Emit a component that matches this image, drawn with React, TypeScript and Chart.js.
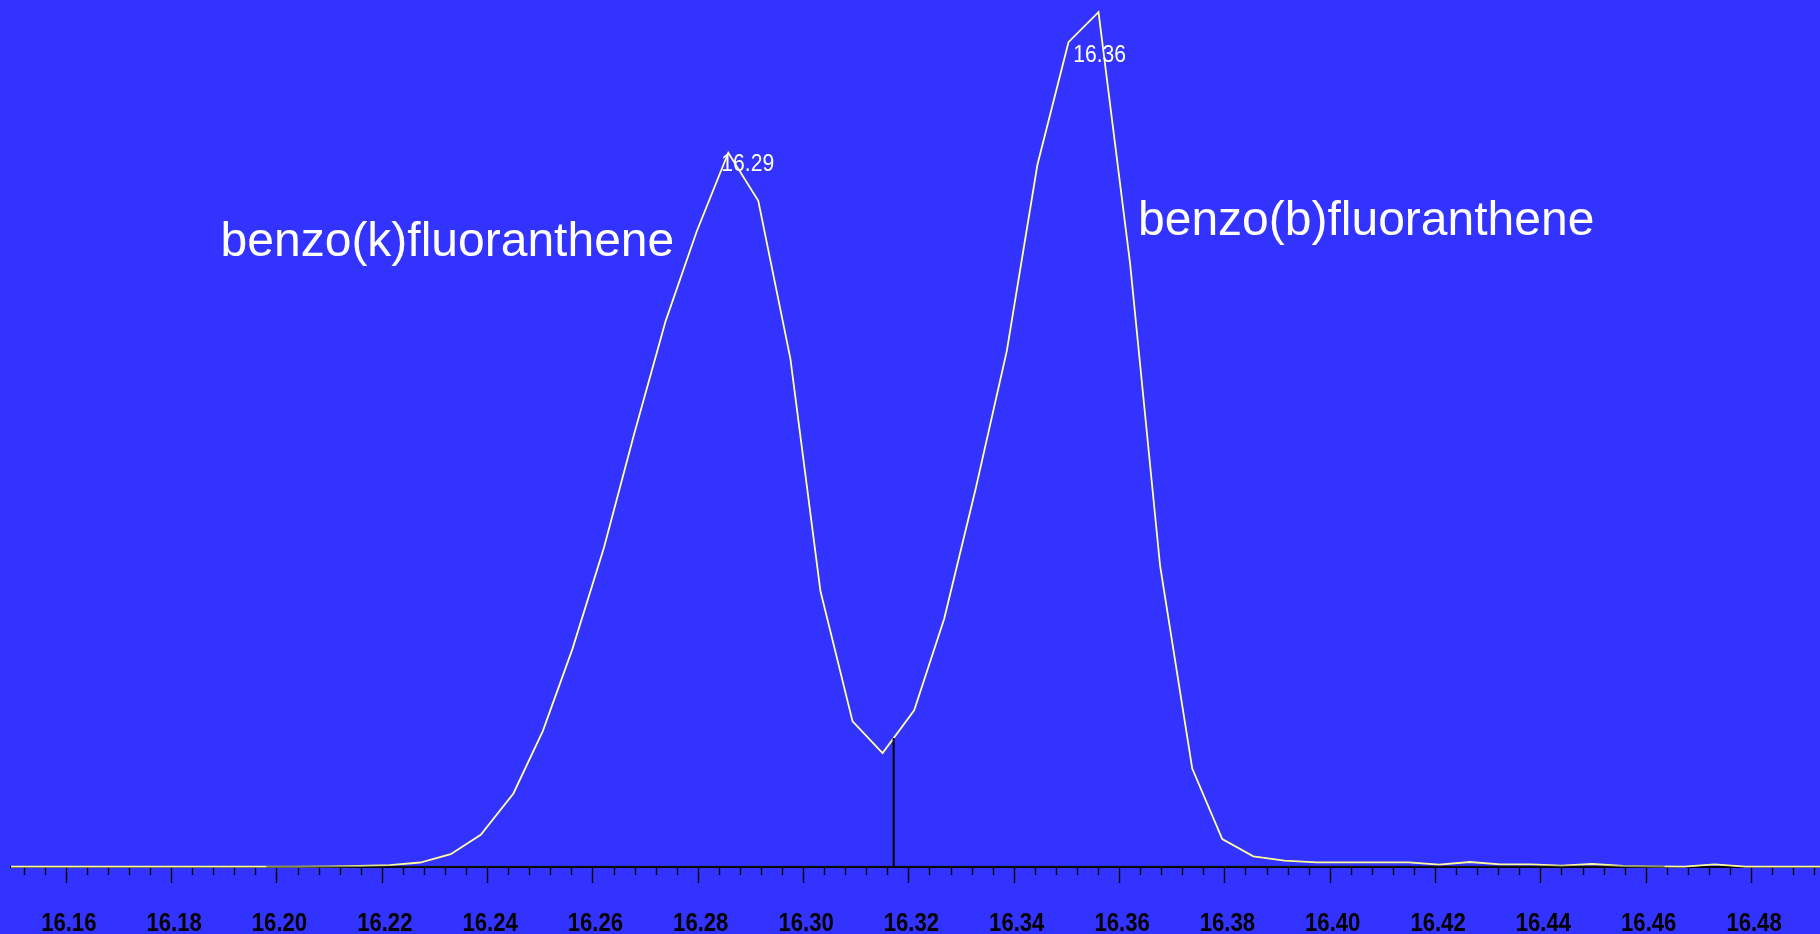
import React, { useEffect, useRef } from 'react';
import { Chart, registerables } from 'chart.js';

Chart.register(...registerables);

// Retention time (min) of each sample of the trace
const retentionTime = [
  16.1453, 16.1512, 16.1570, 16.1629, 16.1687, 16.1746, 16.1804, 16.1863, 16.1921, 16.1980,
  16.2038, 16.2097, 16.2155, 16.2214, 16.2272, 16.2330, 16.2387, 16.2449, 16.2505, 16.2561,
  16.2621, 16.2678, 16.2738, 16.2797, 16.2857, 16.2914, 16.2975, 16.3032, 16.3093, 16.3150,
  16.3210, 16.3267, 16.3327, 16.3386, 16.3444, 16.3503, 16.3560, 16.3620, 16.3677, 16.3738,
  16.3795, 16.3854, 16.3913, 16.3974, 16.4033, 16.4091, 16.4149, 16.4207, 16.4265, 16.4323,
  16.4381, 16.4439, 16.4497, 16.4556, 16.4614, 16.4672, 16.4730, 16.4788, 16.4847, 16.4905,
  16.4962,
];

// Abundance (counts)
const abundance = [
  300, 300, 300, 300, 300, 300, 300, 300, 300, 300,
  400, 600, 1000, 1800, 4500, 12800, 32200, 73500, 136200, 217900,
  319400, 432600, 545900, 635500, 714300, 666200, 508100, 276000, 145600, 114000,
  156700, 248200, 378700, 516300, 702200, 824800, 854800, 603400, 301000, 98400,
  28000, 10700, 6300, 4700, 4700, 4700, 4700, 2300, 5000, 2700,
  2700, 1300, 3000, 1000, 700, 300, 2700, 300, 300, 300,
  300,
];

// Axis range and tick steps
const xMin = 16.1495;
const xMax = 16.4930;
const majorStep = 0.02;
const minorStep = 0.004;
const yMin = 0;
const yMax = 867000;

// Integration events
const integrationStart = 16.198;
const integrationEnd = 16.4635;
const splitTime = 16.3171;

// Peak retention-time labels (text, time, level of the label baseline)
const peakLabels = ['16.29', '16.36'];
const peakLabelTimes = [16.2894, 16.3562];
const peakLabelLevels = [696300, 805300];

// Compound names (text, time of left edge, level of baseline)
const compoundNames = ['benzo(k)fluoranthene', 'benzo(b)fluoranthene'];
const compoundTimes = [16.1893, 16.3635];
const compoundLevels = [611000, 632000];

function interp(t: number): number {
  for (let i = 0; i < retentionTime.length - 1; i++) {
    const a = retentionTime[i];
    const b = retentionTime[i + 1];
    if (t >= a && t <= b) {
      const f = (t - a) / (b - a);
      return abundance[i] + f * (abundance[i + 1] - abundance[i]);
    }
  }
  return 0;
}

function isMajor(v: number): boolean {
  const k = v / majorStep;
  return Math.abs(k - Math.round(k)) < 1e-6;
}

const FONT = '"Liberation Sans", Arial, Helvetica, sans-serif';

export default function App() {
  const canvasRef = useRef<HTMLCanvasElement | null>(null);

  useEffect(() => {
    const canvas = canvasRef.current;
    if (!canvas) return;

    const annotate = {
      id: 'annotate',
      afterDraw(chart: any) {
        const { ctx, scales, chartArea } = chart;
        const x = scales.x;
        const y = scales.y;
        ctx.save();

        // x tick labels (narrow face)
        ctx.fillStyle = '#000000';
        ctx.font = `bold 26px ${FONT}`;
        ctx.textAlign = 'center';
        ctx.textBaseline = 'alphabetic';
        x.ticks.forEach((tk: any) => {
          if (!isMajor(tk.value)) return;
          const px = x.getPixelForValue(tk.value) + 2.5;
          ctx.save();
          ctx.translate(px, chartArea.bottom + 63.5);
          ctx.scale(0.85, 1);
          ctx.fillText(Number(tk.value).toFixed(2), 0, 0);
          ctx.restore();
        });

        // peak labels
        ctx.fillStyle = '#FFFFFF';
        ctx.font = `24px ${FONT}`;
        peakLabels.forEach((s, i) => {
          ctx.save();
          ctx.translate(x.getPixelForValue(peakLabelTimes[i]), y.getPixelForValue(peakLabelLevels[i]));
          ctx.scale(0.88, 1);
          ctx.fillText(s, 0, 0);
          ctx.restore();
        });

        // compound names
        ctx.font = `48px ${FONT}`;
        ctx.textAlign = 'left';
        compoundNames.forEach((s, i) => {
          ctx.fillText(s, x.getPixelForValue(compoundTimes[i]), y.getPixelForValue(compoundLevels[i]));
        });
        ctx.restore();
      },
    };

    const chart = new Chart(canvas, {
      type: 'line',
      data: {
        datasets: [
          {
            label: 'trace',
            data: retentionTime.map((t, i) => ({ x: t, y: abundance[i] })),
            borderColor: '#FFFF99',
            borderWidth: 1.8,
            pointRadius: 0,
            tension: 0,
            fill: false,
            order: 3,
            clip: { left: 0, right: 0, top: false, bottom: false } as any,
          },
          {
            label: 'baseline',
            data: [
              { x: integrationStart, y: interp(integrationStart) },
              { x: integrationEnd, y: interp(integrationEnd) },
            ],
            borderColor: 'rgba(30,30,20,0.5)',
            borderWidth: 1.8,
            pointRadius: 0,
            fill: false,
            order: 2,
            clip: false as any,
          },
          {
            label: 'split',
            data: [
              { x: splitTime, y: yMin },
              { x: splitTime, y: interp(splitTime) },
            ],
            borderColor: '#000000',
            borderWidth: 2,
            pointRadius: 0,
            fill: false,
            order: 1,
            clip: false as any,
          },
        ],
      },
      options: {
        responsive: true,
        maintainAspectRatio: false,
        animation: false,
        layout: { padding: { left: 11, right: 0, top: 0, bottom: 51 } },
        plugins: {
          legend: { display: false },
          tooltip: { enabled: false },
        },
        scales: {
          x: {
            type: 'linear',
            min: xMin,
            max: xMax,
            border: { display: true, color: '#000000', width: 2 },
            grid: {
              drawOnChartArea: false,
              drawTicks: true,
              tickLength: 16,
              tickColor: '#000000',
              tickWidth: 1.4,
              tickBorderDash: (ctx: any) => (ctx.tick && isMajor(ctx.tick.value) ? [] : [7, 100]),
            } as any,
            ticks: {
              display: false,
              stepSize: minorStep,
              autoSkip: false,
              includeBounds: false,
              maxRotation: 0,
              minRotation: 0,
            } as any,
          },
          y: {
            display: false,
            min: yMin,
            max: yMax,
          },
        },
      },
      plugins: [annotate],
    });

    return () => chart.destroy();
  }, []);

  return (
    <div
      style={{
        position: 'fixed',
        left: 0,
        top: 0,
        width: '100vw',
        height: '100vh',
        background: '#3333FF',
      }}
    >
      <canvas ref={canvasRef} />
    </div>
  );
}
